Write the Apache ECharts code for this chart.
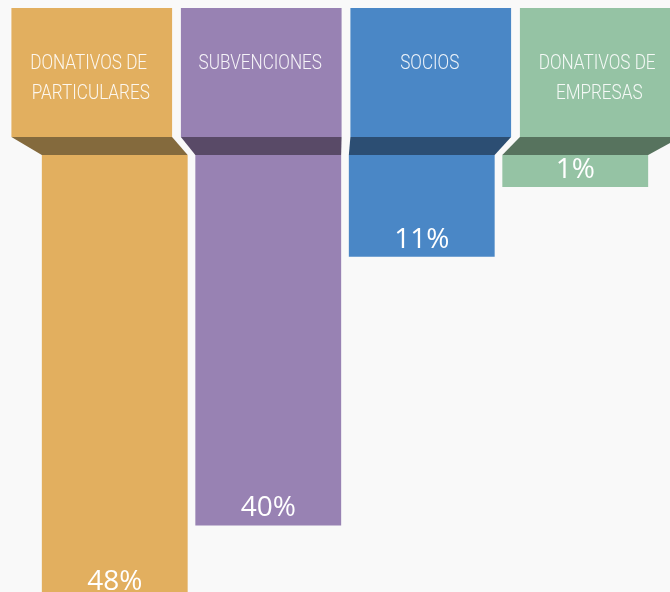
<!DOCTYPE html>
<html>
<head>
<meta charset="utf-8">
<script src="https://cdn.jsdelivr.net/npm/echarts@6/dist/echarts.min.js"></script>
<style>
html,body{margin:0;padding:0;background:#f9f9f9;}
#main{width:670px;height:592px;}
</style>
</head>
<body>
<div id="main"></div>
<script>
const categories = ['DONATIVOS DE PARTICULARES', 'SUBVENCIONES', 'SOCIOS', 'DONATIVOS DE EMPRESAS'];
const percentages = [48, 40, 11, 1];
const mainColors = ['#E2AF5F', '#9882B3', '#4A87C6', '#95C3A4'];
const foldColors = ['#846A3D', '#594A67', '#2C4E73', '#57735E'];

const chart = echarts.init(document.getElementById('main'), null, {renderer: 'canvas'});

const HEADER_RATIO = 0.948;
const BAR_RATIO = 0.95;
const TEXT_SCALE_X = 0.815;

const option = {
  backgroundColor: '#f9f9f9',
  animation: false,
  grid: [
    {left: 38, top: 155, width: 614, height: 463, outerBoundsMode: 'none', containLabel: false},
    {left: 7, top: 8, width: 678, height: 129, outerBoundsMode: 'none', containLabel: false}
  ],
  xAxis: [
    {type: 'category', gridIndex: 0, data: categories, show: false},
    {type: 'category', gridIndex: 1, data: categories, show: false}
  ],
  yAxis: [
    {type: 'value', gridIndex: 0, min: 0, max: 50, inverse: true, show: false},
    {type: 'value', gridIndex: 1, min: 0, max: 1, show: false}
  ],
  series: [
    {
      type: 'custom',
      xAxisIndex: 1,
      yAxisIndex: 1,
      silent: true,
      clip: false,
      data: categories.map((c, i) => [i, 1]),
      encode: {x: 0, y: 1},
      renderItem: function (params, api) {
        const i = params.dataIndex;
        const top = api.coord([i, 1]);
        const bot = api.coord([i, 0]);
        const w = api.size([1, 0])[0] * HEADER_RATIO;
        return {
          type: 'group',
          children: [
            {type: 'rect', shape: {x: top[0] - w / 2, y: top[1], width: w, height: bot[1] - top[1]},
             style: {fill: mainColors[i]}},
            {type: 'text', x: top[0] - 1, y: top[1] + 41, scaleX: TEXT_SCALE_X, scaleY: 1,
             style: {
              text: categories[i], x: 0, y: 0,
              align: 'center', verticalAlign: 'top',
              width: 180, overflow: 'break', lineHeight: 30,
              fill: 'rgba(255,255,255,0.9)',
              fontSize: 21, fontWeight: 300, fontFamily: 'Roboto, sans-serif'
            }}
          ]
        };
      }
    },
    {
      type: 'custom',
      xAxisIndex: 0,
      yAxisIndex: 0,
      silent: true,
      clip: false,
      data: categories.map((c, i) => [i, 0]),
      encode: {x: 0, y: 1},
      renderItem: function (params, api) {
        const i = params.dataIndex;
        const b = api.coord([i, 0]);
        const bw = api.size([1, 0])[0] * BAR_RATIO;
        const hx = chart.convertToPixel({xAxisIndex: 1}, i);
        const hx1 = chart.convertToPixel({xAxisIndex: 1}, 1);
        const hx0 = chart.convertToPixel({xAxisIndex: 1}, 0);
        const hw = (hx1 - hx0) * HEADER_RATIO;
        const hy = chart.convertToPixel({yAxisIndex: 1}, 0);
        return {
          type: 'polygon',
          shape: {points: [
            [hx - hw / 2, hy], [hx + hw / 2, hy],
            [b[0] + bw / 2, b[1]], [b[0] - bw / 2, b[1]]
          ]},
          style: {fill: foldColors[i]}
        };
      }
    },
    {
      type: 'bar',
      xAxisIndex: 0,
      yAxisIndex: 0,
      silent: true,
      barWidth: '95%',
      barMinHeight: 32,
      data: percentages.map((v, i) => ({value: v, itemStyle: {color: mainColors[i]}})),
      label: {
        show: true,
        position: 'insideBottom',
        distance: 3,
        formatter: '{c}%',
        color: '#ffffff',
        fontSize: 28,
        fontFamily: '"Open Sans", sans-serif',
        textBorderWidth: 0
      }
    }
  ]
};
chart.setOption(option);
</script>
</body>
</html>
